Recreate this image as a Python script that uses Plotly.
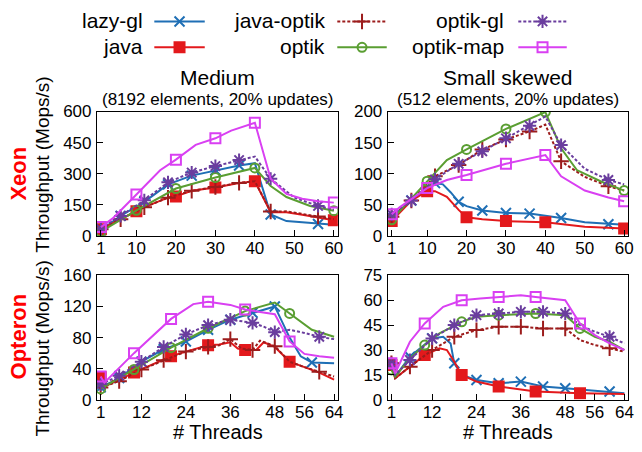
import plotly.graph_objects as go

FONT = "Liberation Sans, Arial, sans-serif"
SERIES = ["lazy-gl", "java", "java-optik", "optik", "optik-gl", "optik-map"]
COLORS = ["#1f6fb5", "#e3191c", "#9c1c1c", "#5a9e32", "#6a3d9e", "#d940f2"]
DASHES = ["solid", "solid", "3px,2px", "solid", "3px,2px", "solid"]
SYMBOLS = ["x-thin-open", "square", "cross-thin-open", "circle-open", "asterisk-open", "square-open"]
SIZES = [10, 10, 11, 9, 11, 10]

# ---------------- Xeon, Medium (8192 elements, 20% updates) ----------------
xm_lazy_x = [1, 6, 12, 18, 24, 30, 36, 40, 44, 48, 56, 60]
xm_lazy_y = [28, 97, 165, 249, 291, 317, 340, 351, 104, 72, 58, 54]
xm_lazy_m = [1, 6, 12, 18, 24, 30, 36, 44, 56]
xm_java_x = [1, 6, 10, 12, 18, 20, 24, 30, 36, 40, 44, 48, 52, 56, 60]
xm_java_y = [33, 81, 120, 139, 185, 191, 218, 234, 256, 264, 115, 114, 102, 90, 76]
xm_java_m = [1, 10, 20, 30, 40, 60]
xm_jopt_x = [1, 6, 12, 18, 24, 30, 36, 40, 44, 48, 56, 60]
xm_jopt_y = [33, 81, 139, 185, 218, 236, 256, 264, 118, 119, 94, 81]
xm_jopt_m = [1, 6, 12, 18, 24, 30, 36, 44, 56]
xm_optik_x = [1, 10, 20, 30, 40, 44, 48, 54, 60]
xm_optik_y = [21, 124, 229, 282, 328, 241, 188, 145, 122]
xm_optik_m = [1, 10, 20, 30, 40, 60]
xm_ogl_x = [1, 6, 12, 18, 24, 30, 36, 40, 44, 50, 56, 60]
xm_ogl_y = [36, 97, 172, 259, 306, 337, 366, 383, 276, 185, 145, 127]
xm_ogl_m = [1, 6, 12, 18, 24, 30, 36, 44, 56]
xm_omap_x = [1, 4, 10, 16, 20, 25, 30, 34, 40, 44, 48, 52, 56, 60]
xm_omap_y = [43, 85, 200, 317, 368, 439, 471, 508, 546, 276, 203, 180, 168, 161]
xm_omap_m = [1, 10, 20, 30, 40, 60]

# ---------------- Xeon, Small skewed (512 elements, 20% updates) ----------------
xs_lazy_x = [1, 6, 10, 12, 14, 16, 18, 20, 24, 30, 36, 40, 44, 50, 56, 60]
xs_lazy_y = [30, 57, 77, 85, 83, 70, 55, 48, 41, 37, 36, 33, 29, 22, 19, 18]
xs_lazy_m = [1, 6, 12, 18, 24, 30, 36, 44, 56]
xs_java_x = [1, 6, 10, 12, 15, 18, 20, 24, 30, 40, 50, 60]
xs_java_y = [24, 57, 72, 72, 63, 42, 30, 27, 24, 22, 15, 12]
xs_java_m = [1, 10, 20, 30, 40, 60]
xs_jopt_x = [1, 6, 12, 18, 24, 30, 36, 40, 44, 50, 56, 60]
xs_jopt_y = [31, 57, 96, 114, 139, 155, 168, 179, 120, 95, 80, 73]
xs_jopt_m = [1, 6, 12, 18, 24, 30, 36, 44, 56]
xs_optik_x = [1, 10, 15, 20, 30, 40, 44, 48, 54, 60]
xs_optik_y = [26, 88, 122, 139, 172, 199, 141, 106, 88, 73]
xs_optik_m = [1, 10, 20, 30, 40, 60]
xs_ogl_x = [1, 6, 12, 18, 24, 30, 36, 40, 44, 50, 56, 60]
xs_ogl_y = [35, 57, 91, 116, 136, 157, 177, 192, 146, 108, 90, 83]
xs_ogl_m = [1, 6, 12, 18, 24, 30, 36, 44, 56]
xs_omap_x = [1, 3, 10, 15, 20, 30, 40, 44, 50, 56, 60]
xs_omap_y = [35, 46, 77, 90, 98, 116, 130, 96, 73, 62, 56]
xs_omap_m = [1, 10, 20, 30, 40, 60]

# ---------------- Opteron, Medium ----------------
om_lazy_x = [1, 6, 12, 18, 24, 30, 36, 42, 48, 52, 55, 58, 64]
om_lazy_y = [16, 28, 49, 65, 75, 90, 103, 112, 120, 80, 56, 48, 47]
om_lazy_m = [1, 6, 12, 18, 24, 30, 36, 42, 48, 58]
om_java_x = [1, 2, 10, 20, 24, 30, 33, 36, 38, 40, 43, 45, 48, 52, 56, 60, 64]
om_java_y = [29, 17, 35, 56, 62, 70, 71, 74, 66, 64, 64, 74, 68, 49, 42, 35, 26]
om_java_m = [1, 10, 20, 30, 40, 52]
om_jopt_x = [1, 6, 12, 18, 24, 30, 33, 36, 39, 42, 44, 48, 52, 56, 60, 64]
om_jopt_y = [16, 24, 39, 51, 62, 68, 70, 78, 66, 64, 76, 69, 49, 42, 36, 30]
om_jopt_m = [1, 6, 12, 18, 24, 30, 36, 42, 48, 60]
om_optik_x = [1, 10, 20, 30, 40, 48, 52, 58, 64]
om_optik_y = [14, 39, 67, 92, 114, 125, 111, 90, 81]
om_optik_m = [1, 10, 20, 30, 40, 52]
om_ogl_x = [1, 6, 12, 18, 24, 30, 36, 42, 45, 48, 52, 56, 60, 64]
om_ogl_y = [20, 31, 49, 68, 84, 96, 103, 99, 94, 87, 90, 86, 81, 78]
om_ogl_m = [1, 6, 12, 18, 24, 30, 36, 42, 48, 60]
om_omap_x = [1, 2, 10, 20, 26, 30, 36, 40, 44, 48, 52, 56, 60, 64]
om_omap_y = [30, 22, 60, 104, 123, 126, 122, 116, 113, 110, 75, 59, 56, 54]
om_omap_m = [1, 10, 20, 30, 40, 52]

# ---------------- Opteron, Small skewed ----------------
os_lazy_x = [1, 2, 6, 12, 15, 17, 18, 20, 24, 30, 36, 42, 48, 54, 60, 64]
os_lazy_y = [20, 14, 26, 37, 38, 34, 22, 15, 12, 10, 11, 8, 7, 6, 5, 4]
os_lazy_m = [1, 6, 12, 18, 24, 30, 36, 42, 48, 60]
os_java_x = [1, 2, 6, 10, 14, 16, 18, 20, 24, 30, 40, 52, 64]
os_java_y = [21, 13, 20, 27, 31, 30, 23, 15, 11, 8, 5, 4, 3.5]
os_java_m = [1, 10, 20, 30, 40, 52]
os_jopt_x = [1, 2, 6, 12, 18, 24, 30, 36, 42, 48, 52, 56, 60, 64]
os_jopt_y = [22, 13, 20, 30, 38, 42, 44, 44, 43, 43, 36, 33, 31, 29]
os_jopt_m = [1, 6, 12, 18, 24, 30, 36, 42, 48, 60]
os_optik_x = [1, 2, 6, 10, 14, 20, 24, 30, 40, 48, 52, 56, 60, 64]
os_optik_y = [18, 14, 25, 33, 40, 47, 50, 51, 52, 51, 43, 38, 35, 30]
os_optik_m = [1, 10, 20, 30, 40, 52]
os_ogl_x = [1, 2, 6, 12, 18, 24, 30, 36, 42, 48, 52, 56, 60, 64]
os_ogl_y = [22, 15, 24, 37, 45, 51, 52, 53, 53, 52, 45, 41, 38, 34]
os_ogl_m = [1, 6, 12, 18, 24, 30, 36, 42, 48, 60]
os_omap_x = [1, 2, 6, 10, 15, 20, 25, 30, 36, 40, 48, 52, 56, 60, 64]
os_omap_y = [22, 16, 35, 46, 56, 60, 61, 62, 63, 62, 60, 46, 39, 34, 30]
os_omap_m = [1, 10, 20, 30, 40, 52]

XEON_TICKS = [1, 10, 20, 30, 40, 50, 60]
OPT_TICKS = [1, 12, 24, 36, 48, 56, 64]

PANELS = [
    # (xaxis id, yaxis id, y range, y ticks, x range, x ticks, series data)
    ("x", "y", [0, 600], [0, 150, 300, 450, 600], [0, 61], XEON_TICKS,
     [(xm_lazy_x, xm_lazy_y, xm_lazy_m), (xm_java_x, xm_java_y, xm_java_m),
      (xm_jopt_x, xm_jopt_y, xm_jopt_m), (xm_optik_x, xm_optik_y, xm_optik_m),
      (xm_ogl_x, xm_ogl_y, xm_ogl_m), (xm_omap_x, xm_omap_y, xm_omap_m)]),
    ("x2", "y2", [0, 200], [0, 50, 100, 150, 200], [0, 61], XEON_TICKS,
     [(xs_lazy_x, xs_lazy_y, xs_lazy_m), (xs_java_x, xs_java_y, xs_java_m),
      (xs_jopt_x, xs_jopt_y, xs_jopt_m), (xs_optik_x, xs_optik_y, xs_optik_m),
      (xs_ogl_x, xs_ogl_y, xs_ogl_m), (xs_omap_x, xs_omap_y, xs_omap_m)]),
    ("x3", "y3", [0, 160], [0, 40, 80, 120, 160], [0, 65], OPT_TICKS,
     [(om_lazy_x, om_lazy_y, om_lazy_m), (om_java_x, om_java_y, om_java_m),
      (om_jopt_x, om_jopt_y, om_jopt_m), (om_optik_x, om_optik_y, om_optik_m),
      (om_ogl_x, om_ogl_y, om_ogl_m), (om_omap_x, om_omap_y, om_omap_m)]),
    ("x4", "y4", [0, 75], [0, 15, 30, 45, 60, 75], [0, 65], OPT_TICKS,
     [(os_lazy_x, os_lazy_y, os_lazy_m), (os_java_x, os_java_y, os_java_m),
      (os_jopt_x, os_jopt_y, os_jopt_m), (os_optik_x, os_optik_y, os_optik_m),
      (os_ogl_x, os_ogl_y, os_ogl_m), (os_omap_x, os_omap_y, os_omap_m)]),
]

W, H = 642, 452
XDOM = [[97 / W, 340.5 / W], [391 / W, 634 / W]]
YDOM = [[1 - 237 / H, 1 - 107 / H], [1 - 408 / H, 1 - 278 / H]]

fig = go.Figure()


def marker_dict(i):
    return dict(symbol=SYMBOLS[i], size=SIZES[i], color=COLORS[i],
                line=dict(color=COLORS[i], width=2))


for xa, ya, yr, yt, xr, xt, data in PANELS:
    for i, (xs, ys, mk) in enumerate(data):
        fig.add_trace(go.Scatter(x=xs, y=ys, mode="lines", xaxis=xa, yaxis=ya,
                                 line=dict(color=COLORS[i], width=2, dash=DASHES[i]),
                                 showlegend=False, hoverinfo="skip"))
        mx = [x for x in xs if x in mk]
        my = [y for x, y in zip(xs, ys) if x in mk]
        fig.add_trace(go.Scatter(x=mx, y=my, mode="markers", xaxis=xa, yaxis=ya,
                                 marker=marker_dict(i), name=SERIES[i],
                                 showlegend=False, hoverinfo="skip"))

# Legend keys (gnuplot style: label, then sample) on an overlay axis in pixel units
LEG_TEXT_RIGHT = [146, 330, 511]
LEG_LINE = [(155, 206), (340, 390), (523, 572)]
LEG_ROW = [13, 40]
legend_pos = {}
for i, name in enumerate(SERIES):
    c, r = i // 2, i % 2
    legend_pos[name] = (c, r)
    x0, x1 = LEG_LINE[c]
    yy = LEG_ROW[r]
    fig.add_trace(go.Scatter(x=[x0, (x0 + x1) / 2, x1], y=[yy, yy, yy], mode="lines",
                             xaxis="x5", yaxis="y5",
                             line=dict(color=COLORS[i], width=2, dash=DASHES[i]),
                             showlegend=False, hoverinfo="skip"))
    fig.add_trace(go.Scatter(x=[(x0 + x1) / 2], y=[yy], mode="markers",
                             xaxis="x5", yaxis="y5", marker=marker_dict(i),
                             showlegend=False, hoverinfo="skip"))

ann = []
for i, name in enumerate(SERIES):
    c, r = legend_pos[name]
    ann.append(dict(text=name, x=LEG_TEXT_RIGHT[c] / W, y=1 - (LEG_ROW[r] - 1) / H,
                    xref="paper", yref="paper", xanchor="right", yanchor="middle",
                    showarrow=False, font=dict(family=FONT, size=21, color="black")))

for cx, title in [(219, "Medium"), (513, "Small skewed")]:
    ann.append(dict(text=title, x=cx / W, y=1 - 71 / H, xref="paper", yref="paper",
                    xanchor="center", yanchor="middle", showarrow=False,
                    font=dict(family=FONT, size=21, color="black")))
for cx, sub in [(219, "(8192 elements, 20% updates)"), (513, "(512 elements, 20% updates)")]:
    ann.append(dict(text=sub, x=cx / W, y=1 - 94 / H, xref="paper", yref="paper",
                    xanchor="center", yanchor="middle", showarrow=False,
                    font=dict(family=FONT, size=17, color="black")))
for cx in [219, 513]:
    ann.append(dict(text="# Threads", x=cx / W, y=1 - 442 / H, xref="paper", yref="paper",
                    xanchor="center", yanchor="middle", showarrow=False,
                    font=dict(family=FONT, size=20, color="black")))
for cy, lab in [(172, "Xeon"), (342, "Opteron")]:
    ann.append(dict(text="<b>%s</b>" % lab, x=18 / W, y=1 - cy / H, xref="paper", yref="paper",
                    xanchor="center", yanchor="middle", showarrow=False, textangle=-90,
                    font=dict(family=FONT, size=22, color="#ff0000")))
for cy in [163, 355]:
    ann.append(dict(text="Throughput (Mops/s)", x=42 / W, y=1 - cy / H, xref="paper",
                    yref="paper", xanchor="center", yanchor="middle", showarrow=False,
                    textangle=-90, font=dict(family=FONT, size=19, color="black")))

axis_common = dict(showline=True, linecolor="black", linewidth=1, mirror=True,
                   ticks="inside", ticklen=6, tickcolor="black", tickwidth=1,
                   showgrid=False, zeroline=False, ticklabeloverflow="allow",
                   tickfont=dict(family=FONT, size=17, color="black"))

layout = dict(width=W, height=H, autosize=False, margin=dict(l=0, r=0, t=0, b=0),
              paper_bgcolor="white", plot_bgcolor="rgba(0,0,0,0)", showlegend=False,
              annotations=ann)
for k, (xa, ya, yr, yt, xr, xt, data) in enumerate(PANELS):
    col, row = k % 2, k // 2
    xkey = "xaxis" if xa == "x" else "xaxis" + xa[1:]
    ykey = "yaxis" if ya == "y" else "yaxis" + ya[1:]
    layout[xkey] = dict(axis_common, domain=XDOM[col], range=xr, tickvals=xt,
                        anchor=ya, ticklabelstandoff=-3)
    layout[ykey] = dict(axis_common, domain=YDOM[row], range=yr, tickvals=yt,
                        anchor=xa, ticklabelstandoff=1)
layout["xaxis5"] = dict(domain=[0, 1], range=[0, W], visible=False, anchor="y5", fixedrange=True)
layout["yaxis5"] = dict(domain=[0, 1], range=[H, 0], visible=False, anchor="x5", fixedrange=True)

fig.update_layout(**layout)
fig.write_html("out.html", config={"displayModeBar": False},
               post_script="document.body.style.margin='0px';document.body.style.overflow='hidden';")
